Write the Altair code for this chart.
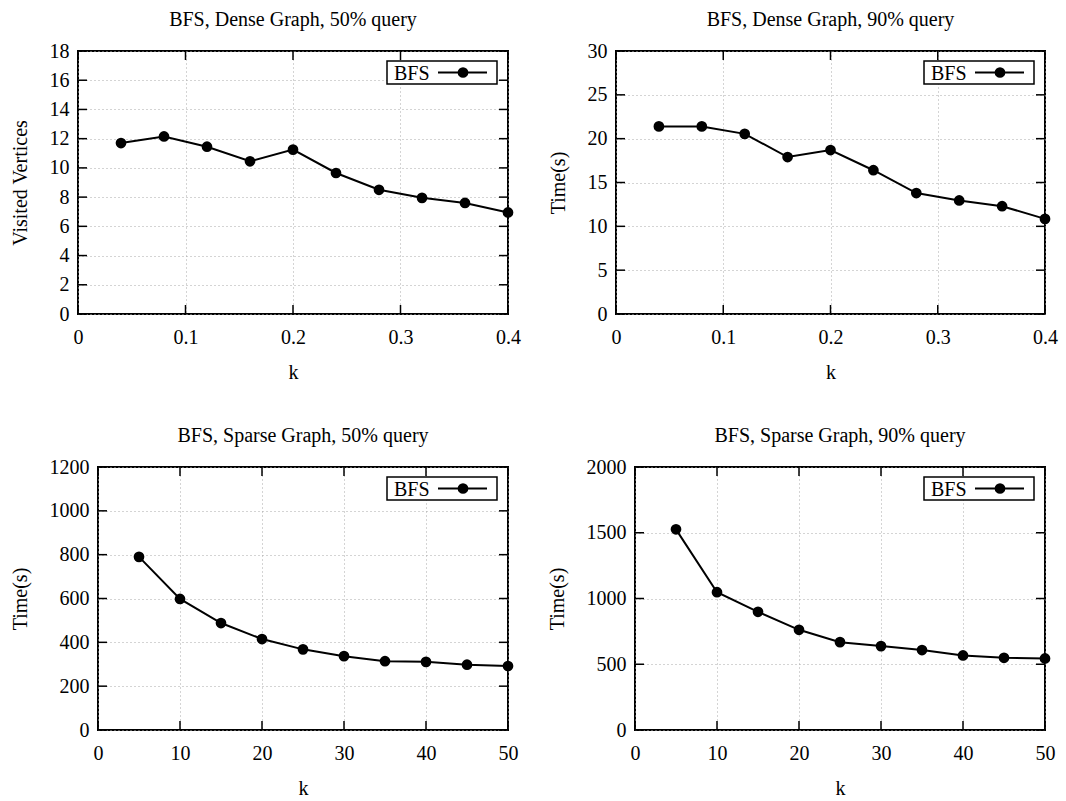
import altair as alt
import pandas as pd

# ---------------- data ----------------
k_dense = [0.04, 0.08, 0.12, 0.16, 0.20, 0.24, 0.28, 0.32, 0.36, 0.40]
k_sparse = [5, 10, 15, 20, 25, 30, 35, 40, 45, 50]

dense50 = [11.7, 12.15, 11.45, 10.45, 11.25, 9.65, 8.5, 7.95, 7.6, 6.95]
dense90 = [21.4, 21.4, 20.55, 17.9, 18.7, 16.4, 13.8, 12.95, 12.3, 10.85]
sparse50 = [790, 598, 488, 415, 368, 337, 314, 311, 298, 292]
sparse90 = [1526, 1048, 899, 762, 668, 638, 608, 567, 549, 544]

titles = [
    "BFS, Dense Graph, 50% query",
    "BFS, Dense Graph, 90% query",
    "BFS, Sparse Graph, 50% query",
    "BFS, Sparse Graph, 90% query",
]
y_titles = ["Visited Vertices", "Time(s)", "Time(s)", "Time(s)"]
x_title = "k"
series_name = "BFS"

xticks_dense = [0, 0.1, 0.2, 0.3, 0.4]
xticks_sparse = [0, 10, 20, 30, 40, 50]
yticks_d50 = [0, 2, 4, 6, 8, 10, 12, 14, 16, 18]
yticks_d90 = [0, 5, 10, 15, 20, 25, 30]
yticks_s50 = [0, 200, 400, 600, 800, 1000, 1200]
yticks_s90 = [0, 500, 1000, 1500, 2000]

FONT = "Liberation Serif"
FS = 20
H = 263
TL = 9  # inward tick length


def panel(title, ytitle, xs, ys, xticks, yticks, w, xfmt):
    df = pd.DataFrame({"k": xs, "v": ys})
    xdom = [xticks[0], xticks[-1]]
    ydom = [yticks[0], yticks[-1]]
    xsc = alt.Scale(domain=xdom, nice=False, zero=False)
    ysc = alt.Scale(domain=ydom, nice=False, zero=False)
    xax = alt.Axis(
        values=xticks, format=xfmt, title=x_title, grid=True, ticks=False,
        domain=False, labelPadding=13, titlePadding=15,
        gridDash=[1, 3], gridColor="#a8a8a8", gridWidth=1,
        labelFlush=False,
    )
    yax = alt.Axis(
        values=yticks, format="d", title=ytitle, grid=True, ticks=False,
        domain=False, labelPadding=9, titlePadding=19,
        gridDash=[1, 3], gridColor="#a8a8a8", gridWidth=1,
        labelFlush=False,
    )
    x = alt.X("k:Q", scale=xsc, axis=xax)
    y = alt.Y("v:Q", scale=ysc, axis=yax)

    line = alt.Chart(df).mark_line(color="black", strokeWidth=2).encode(x=x, y=y)
    pts = alt.Chart(df).mark_point(
        filled=True, size=115, color="black", opacity=1
    ).encode(x=x, y=y)

    xt = pd.DataFrame({"k": xticks})
    yt = pd.DataFrame({"v": yticks})
    tick_style = dict(color="black", strokeWidth=1.5)
    t_left = alt.Chart(yt).mark_rule(**tick_style).encode(
        y=y, x=alt.value(0), x2=alt.value(TL))
    t_right = alt.Chart(yt).mark_rule(**tick_style).encode(
        y=y, x=alt.value(w - TL), x2=alt.value(w))
    t_bottom = alt.Chart(xt).mark_rule(**tick_style).encode(
        x=x, y=alt.value(H - TL), y2=alt.value(H))
    t_top = alt.Chart(xt).mark_rule(**tick_style).encode(
        x=x, y=alt.value(0), y2=alt.value(TL))

    leg = pd.DataFrame({"label": [series_name]})
    box = alt.Chart(leg).mark_rect(
        fill="white", stroke="black", strokeWidth=1.5
    ).encode(x=alt.value(w - 121), x2=alt.value(w - 11),
             y=alt.value(10), y2=alt.value(33))
    txt = alt.Chart(leg).mark_text(
        align="left", baseline="middle", font=FONT, fontSize=FS, color="black"
    ).encode(x=alt.value(w - 114), y=alt.value(22.5), text="label:N")
    sline = alt.Chart(leg).mark_rule(color="black", strokeWidth=2).encode(
        x=alt.value(w - 70), x2=alt.value(w - 21), y=alt.value(21.5))
    spt = alt.Chart(leg).mark_point(
        filled=True, size=115, color="black", opacity=1
    ).encode(x=alt.value(w - 45), y=alt.value(21.5))

    return alt.layer(
        line, pts, t_left, t_right, t_bottom, t_top, box, txt, sline, spt
    ).properties(
        width=w, height=H,
        title=alt.TitleParams(
            title, font=FONT, fontSize=FS, fontWeight="normal",
            color="black", anchor="middle", offset=11,
        ),
    )


def spacer():
    # invisible 1px anchor so each row keeps its own left-axis extent
    return alt.Chart(pd.DataFrame({"a": [0]})).mark_point(opacity=0).encode(
        x=alt.value(0), y=alt.value(0)
    ).properties(width=1, height=1, view=alt.ViewBackground(stroke="transparent"))


p1 = panel(titles[0], y_titles[0], k_dense, dense50, xticks_dense, yticks_d50, 430, "~g")
p2 = panel(titles[1], y_titles[1], k_dense, dense90, xticks_dense, yticks_d90, 429, "~g")
p3 = panel(titles[2], y_titles[2], k_sparse, sparse50, xticks_sparse, yticks_s50, 410, "d")
p4 = panel(titles[3], y_titles[3], k_sparse, sparse90, xticks_sparse, yticks_s90, 410, "d")

row1 = alt.hconcat(spacer(), alt.hconcat(p1, p2, spacing=25), spacing=0)
row2 = alt.hconcat(spacer(), alt.hconcat(p3, p4, spacing=27), spacing=0)

chart = alt.vconcat(row1, row2, spacing=42).properties(
    padding={"left": 1, "top": 9, "right": 2, "bottom": 2},
    background="white",
).configure_view(
    stroke="black", strokeWidth=2
).configure_axis(
    labelFont=FONT, labelFontSize=FS, labelColor="black",
    titleFont=FONT, titleFontSize=FS, titleFontWeight="normal", titleColor="black",
)

chart.save("out.html", embed_options={"renderer": "svg", "actions": False})
